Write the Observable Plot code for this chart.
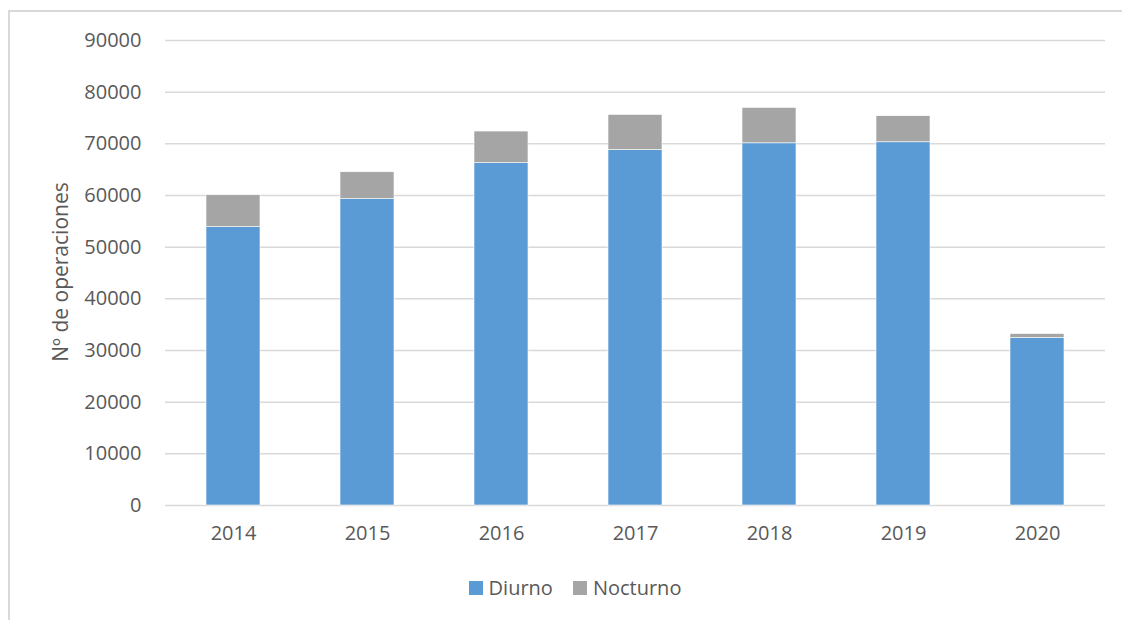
<!DOCTYPE html>
<html>
<head>
<meta charset="utf-8">
<script src="https://cdn.jsdelivr.net/npm/d3@7"></script>
<script src="https://cdn.jsdelivr.net/npm/@observablehq/plot@0.6"></script>
<style>
  html, body { margin: 0; padding: 0; background: #fff; }
  #wrap { position: relative; width: 1122px; height: 620px; overflow: hidden; font-family: "Open Sans", sans-serif; color: #595959; }
  #frame { position: absolute; left: 8px; top: 10px; width: 1300px; height: 800px; border-left: 2px solid #d9d9d9; border-top: 2px solid #d9d9d9; box-sizing: border-box; }
  #chart { position: absolute; left: 0; top: 0; }
  #ylabel { position: absolute; left: 60px; top: 272px; transform: translate(-50%, -50%) rotate(-90deg); font-size: 21px; white-space: nowrap; }
  #legend { position: absolute; top: 574px; left: 0; width: 1122px; display: flex; justify-content: center; font-size: 20px; padding-left: 28px; box-sizing: border-box; }
  .item { display: flex; align-items: center; margin: 0 10px; }
  .sw { width: 14px; height: 14px; margin-right: 6px; }
</style>
</head>
<body>
<div id="wrap">
  <div id="frame"></div>
  <div id="chart"></div>
  <div id="ylabel">Nº de operaciones</div>
  <div id="legend"></div>
</div>
<script>
const years = ["2014", "2015", "2016", "2017", "2018", "2019", "2020"];
const series = ["Diurno", "Nocturno"];
const diurno = [53900, 59300, 66250, 68800, 70100, 70300, 32400];
const nocturno = [6150, 5200, 6130, 6800, 6850, 5050, 780];
const colors = ["#5b9bd5", "#a5a5a5"];
const yTicks = [0, 10000, 20000, 30000, 40000, 50000, 60000, 70000, 80000, 90000];

const data = [];
years.forEach((y, i) => {
  data.push({year: y, series: "Diurno", value: diurno[i]});
  data.push({year: y, series: "Nocturno", value: nocturno[i]});
});

const chart = Plot.plot({
  width: 1122,
  height: 560,
  marginTop: 40,
  marginBottom: 55,
  marginLeft: 165,
  marginRight: 17,
  style: { fontFamily: "'Open Sans', sans-serif", fontSize: "20px", color: "#595959", background: "transparent" },
  x: { domain: years, paddingInner: 0.6, paddingOuter: 0.3, label: null },
  y: { domain: [0, 90000], label: null },
  color: { domain: series, range: colors },
  marks: [
    Plot.gridY(yTicks, { stroke: "#d9d9d9", strokeOpacity: 1, strokeWidth: 1.5 }),
    Plot.barY(data, { x: "year", y: "value", fill: "series", stroke: "#ffffff", strokeWidth: 0.6, order: series }),
    Plot.axisY(yTicks, { tickSize: 0, tickPadding: 24, tickFormat: d => String(d), fontSize: 20, fill: "#595959" }),
    Plot.axisX({ tickSize: 0, tickPadding: 20, fontSize: 20, fill: "#595959" })
  ]
});
document.getElementById("chart").appendChild(chart);

const legend = document.getElementById("legend");
series.forEach((s, i) => {
  const it = document.createElement("div");
  it.className = "item";
  const sw = document.createElement("div");
  sw.className = "sw";
  sw.style.background = colors[i];
  const t = document.createElement("span");
  t.textContent = s;
  it.appendChild(sw);
  it.appendChild(t);
  legend.appendChild(it);
});
</script>
</body>
</html>
